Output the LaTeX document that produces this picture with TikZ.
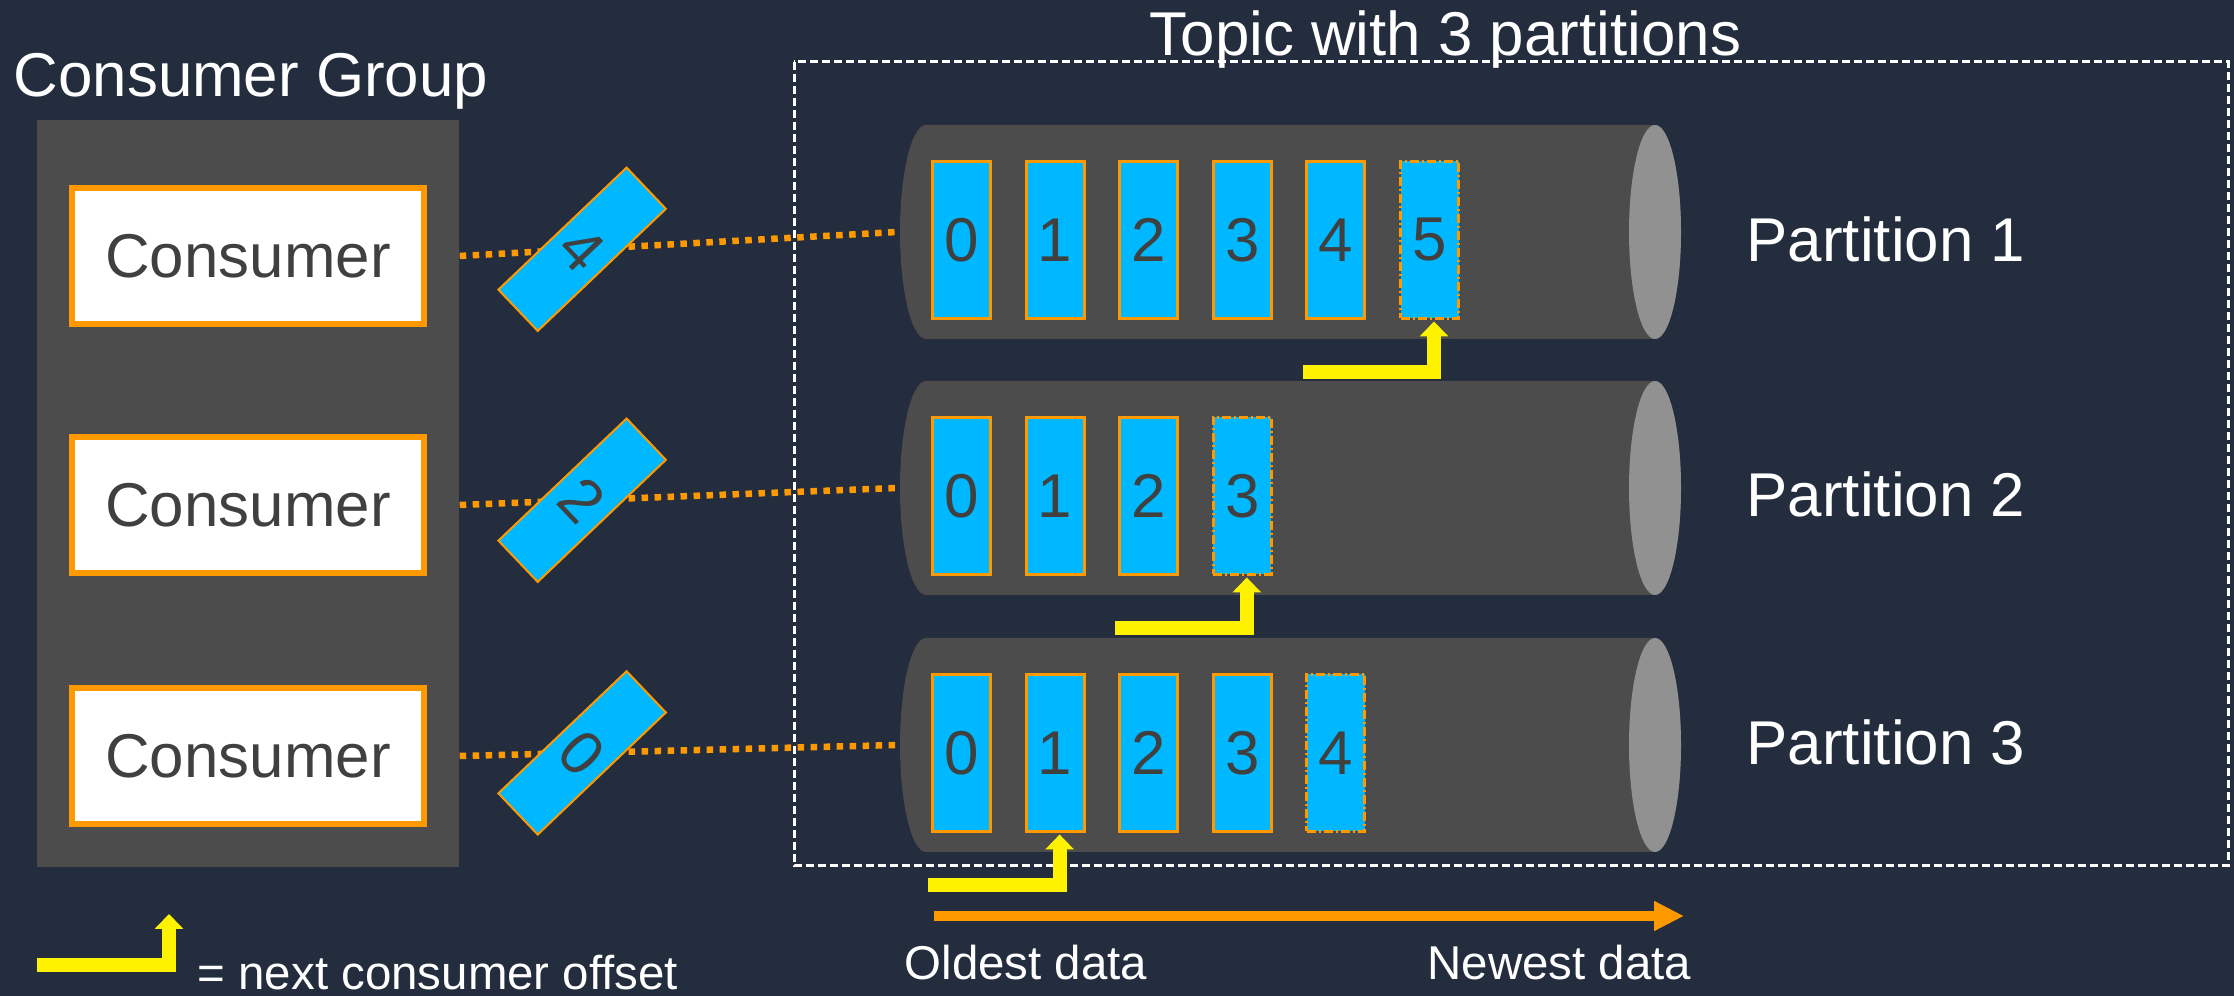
\documentclass[tikz,border=0pt]{standalone}
\usepackage{fontspec}
\setmainfont{Liberation Sans}
\usetikzlibrary{arrows.meta}
\definecolor{bgnavy}{RGB}{35,45,62}
\definecolor{slab}{RGB}{76,76,76}
\definecolor{capgray}{RGB}{145,145,145}
\definecolor{kblue}{RGB}{0,184,255}
\definecolor{korange}{RGB}{255,153,0}
\definecolor{ink}{RGB}{64,64,64}

\begin{document}
\begin{tikzpicture}[>={Triangle[width=0.28cm,length=0.15cm]},
    big/.style={font=\fontsize{17.6}{20}\selectfont},
    small/.style={font=\fontsize{13.5}{16}\selectfont},
    caption/.style={white, inner sep=0},
    consumer/.style={big, draw=korange, line width=0.06cm, fill=white, text=ink,
        minimum width=3.52cm, minimum height=1.36cm, inner sep=0},
    cell/.style={big, draw=korange, line width=0.03cm, fill=kblue, text=ink,
        minimum width=0.58cm, minimum height=1.57cm, inner sep=0},
    nextcell/.style={cell, dash pattern=on 0.09cm off 0.03cm on 0.02cm off 0.03cm},
    offsetmark/.style={big, solid, draw=korange, line width=0.02cm, fill=kblue, text=ink,
        minimum width=0.57cm, minimum height=1.77cm, inner sep=0, rotate=-46.4},
    link/.style={korange, line width=0.065cm, dash pattern=on 0.065cm off 0.065cm},
    nextoff/.style={yellow, line width=0.14cm, ->, line join=miter},
    timeline/.style={korange, line width=0.10cm, -{Triangle[width=0.28cm,length=0.30cm]}}]
    \def\rx{0.26cm}
    \def\ry{1.07cm}
    \useasboundingbox (0,0) rectangle (22.34,9.96);
    \fill[bgnavy] (0,0) rectangle (22.34,9.96);

    % consumer group
    \node[fill=slab, minimum width=4.22cm, minimum height=7.47cm, inner sep=0] (group) at (2.48,5.025) {};
    \node[big, caption, anchor=base west] (grouptitle) at (0.13,8.99) {Consumer Group};

    % topic
    \draw[white, line width=0.03cm, dash pattern=on 0.08cm off 0.04cm] (7.94,9.34) rectangle (22.28,1.30);
    \node[big, caption, anchor=base west] (topictitle) at (11.49,9.40) {Topic with 3 partitions};

    \foreach \r/\y/\n/\a/\o/\cy/\ly in {1/7.64/5/5/4/7.40/7.34, 2/5.08/3/3/2/4.91/4.79, 3/2.51/4/1/0/2.40/2.31} {
        % partition log
        \fill[slab] (9.26,{\y+1.07}) -- (16.55,{\y+1.07})
            arc[start angle=90, end angle=-90, x radius=\rx, y radius=\ry]
            -- (9.26,{\y-1.07})
            arc[start angle=270, end angle=90, x radius=\rx, y radius=\ry] -- cycle;
        \fill[capgray] (16.55,\y) ellipse [x radius=\rx, y radius=\ry];
        \coordinate (tip\r) at (8.97,\y);
        \pgfmathtruncatemacro\m{\n-1}
        \foreach \k in {0,...,\m}
            \node[cell] (c\r-\k) at ({9.615+0.936*\k},{\y-0.08}) {\k};
        \node[nextcell] (c\r-\n) at ({9.615+0.936*\n},{\y-0.08}) {\n};
        \draw[nextoff] ([shift={(-1.27,-0.525)}]c\r-\a.south) -| ([shift={(0.045,-0.015)}]c\r-\a.south);
        \node[big, caption, anchor=base west] (part\r) at (17.46,\ly) {Partition \r};

        % consumer reading it
        \node[consumer] (cons\r) at (2.48,\cy) {Consumer};
        \draw[link] (cons\r.east -| group.east) -- node[offsetmark, pos=0.28] (off\r) {\o} (tip\r);
    }

    % legend
    \coordinate (legstart) at (0.37,0.31);
    \coordinate (legtip) at (1.69,0.82);
    \draw[nextoff] (legstart) -| (legtip);
    \node[small, caption, anchor=base west] (legtext) at (1.97,0.06) {= next consumer offset};

    % age of the data
    \coordinate (oldest) at (9.34,0.80);
    \coordinate (newest) at (16.84,0.80);
    \draw[timeline] (oldest) -- (newest);
    \node[small, caption, anchor=base west] (oldlabel) at (9.04,0.16) {Oldest data};
    \node[small, caption, anchor=base east] (newlabel) at (16.92,0.16) {Newest data};
\end{tikzpicture}
\end{document}
